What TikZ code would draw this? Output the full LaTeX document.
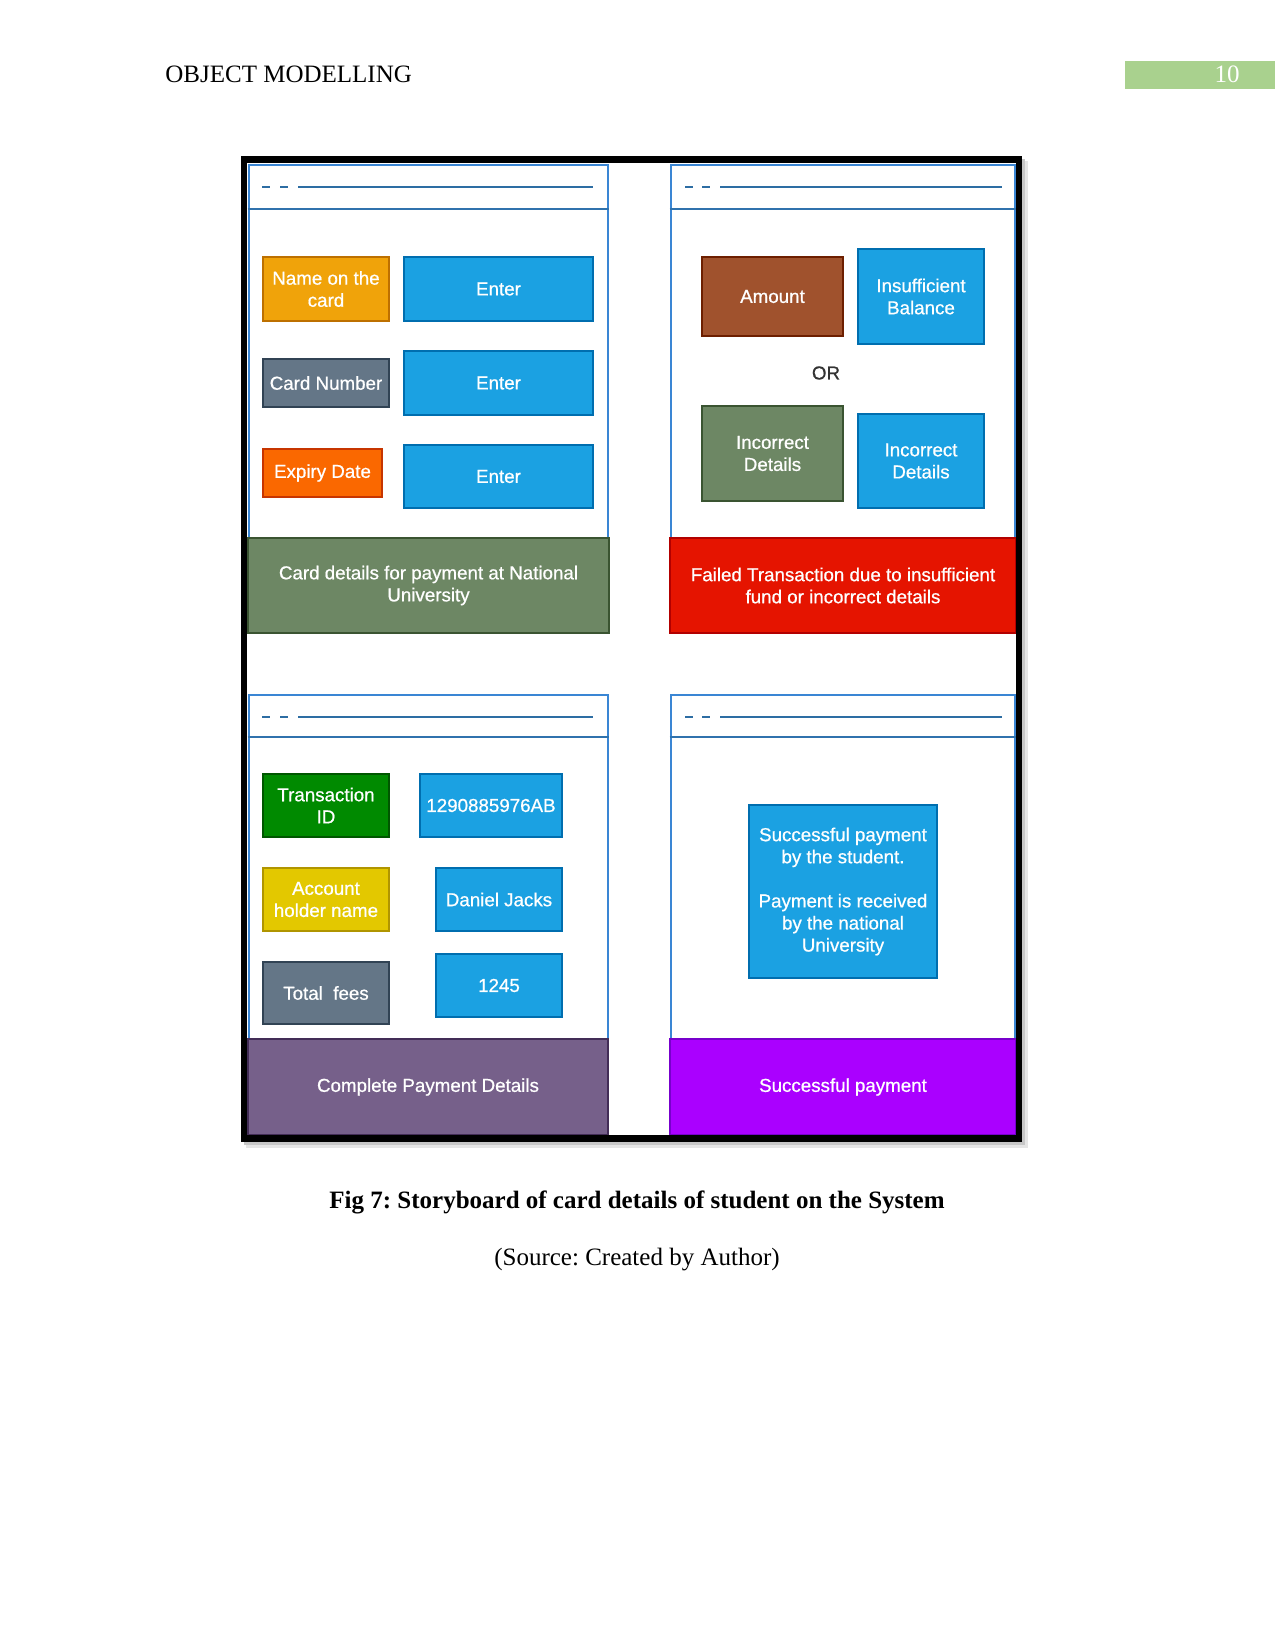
\documentclass[tikz,border=0pt]{standalone}
\usepackage{fontspec}
\setmainfont{Liberation Serif}
\newfontfamily\lab[FakeBold=0.7]{Liberation Sans}
\frenchspacing
\definecolor{cblue}{HTML}{1BA1E2}
\definecolor{dblue}{HTML}{006EAF}
\definecolor{corange}{HTML}{F0A30A}
\definecolor{dorange}{HTML}{BD7000}
\definecolor{cslate}{HTML}{647687}
\definecolor{dslate}{HTML}{314354}
\definecolor{cexp}{HTML}{FA6800}
\definecolor{dexp}{HTML}{C73500}
\definecolor{csienna}{HTML}{A0522D}
\definecolor{dsienna}{HTML}{6D1F00}
\definecolor{colive}{HTML}{6D8764}
\definecolor{dolive}{HTML}{3A5431}
\definecolor{cred}{HTML}{E51400}
\definecolor{dred}{HTML}{B20000}
\definecolor{cgreen}{HTML}{008A00}
\definecolor{dgreen}{HTML}{005700}
\definecolor{cyellow}{HTML}{E3C800}
\definecolor{dyellow}{HTML}{B09500}
\definecolor{cpurple}{HTML}{76608A}
\definecolor{dpurple}{HTML}{432D57}
\definecolor{cviolet}{HTML}{AA00FF}
\definecolor{dviolet}{HTML}{7700CC}
\definecolor{pborder}{HTML}{3A86D4}
\definecolor{hline}{HTML}{2D6DA3}
\definecolor{pagegreen}{HTML}{A9D18E}
\newcommand\mybox[8]{\node[ubox, fill=#6, draw=#7, minimum width={(#4-#2)*0.48pt}, minimum height={(#5-#3)*0.48pt}] (#1) at ({(#2+#4)/2},{(#3+#5)/2}) {#8};}
\newcommand\mypanel[5]{%
  \node[panelbox, minimum width={(#4-#2)*0.48pt}, minimum height={(#5-#3)*0.48pt}] (#1) at ({(#2+#4)/2},{(#3+#5)/2}) {};}
\begin{document}
\begin{tikzpicture}[x=0.48pt,y=-0.48pt,
  ubox/.style={line width=0.6pt, inner sep=0pt, text=white, align=center,
    font={\lab\fontsize{9}{10.6}\selectfont}},
  panelbox/.style={draw=pborder, fill=white, line width=1.4pt, inner sep=0pt},
  hdr/.style={draw=hline, line width=1.4pt},
  divl/.style={draw=hline!80!pborder, line width=1.3pt}]
\fill[white] (0,0) rectangle (1275,1651);
\useasboundingbox (0,0) rectangle (1275,1651);
% page header
\node[anchor=base west, font=\fontsize{12}{14}\selectfont, inner sep=0pt] (title) at (165,83) {OBJECT MODELLING};
\node[fill=pagegreen, minimum width={150*0.48pt}, minimum height={28*0.48pt}, inner sep=0pt] (pgbox) at (1200,75) {};
\node[anchor=base, text=white, font=\fontsize{12}{14}\selectfont, inner sep=0pt] (pgnum) at (1227,83) {10};
% shadow
\fill[black!10] (246,161) rectangle (1028,1148);
\fill[black!22] (244,159) rectangle (1025,1145);
\fill[white] (244,159) rectangle (1019,1139);
% panels
\mypanel{p1}{249}{165}{608}{538}
\mypanel{p2}{671}{165}{1015}{538}
\mypanel{p3}{249}{695}{608}{1039}
\mypanel{p4}{671}{695}{1015}{1039}
% header dividers
\draw[divl] (p1.west |- 0,209) coordinate (d1a) -- (p1.east |- 0,209) coordinate (d1b);
\draw[divl] (p2.west |- 0,209) coordinate (d2a) -- (p2.east |- 0,209) coordinate (d2b);
\draw[divl] (p3.west |- 0,737) coordinate (d3a) -- (p3.east |- 0,737) coordinate (d3b);
\draw[divl] (p4.west |- 0,737) coordinate (d4a) -- (p4.east |- 0,737) coordinate (d4b);
% header dash lines
\foreach \yy in {187,717}{
  \draw[hdr] (262,\yy) -- (270,\yy);
  \draw[hdr] (280,\yy) -- (288,\yy);
  \draw[hdr] (298,\yy) -- (593,\yy);
  \draw[hdr] (685,\yy) -- (693,\yy);
  \draw[hdr] (702,\yy) -- (710,\yy);
  \draw[hdr] (720,\yy) -- (1002,\yy);
}
% bands
\mybox{b1}{248}{538}{609}{633}{colive}{dolive}{Card details for payment at National\\University}
\mybox{b2}{670}{538}{1016}{633}{cred}{dred}{Failed Transaction due to insufficient\\fund or incorrect details}
\mybox{b3}{248}{1039}{608}{1135}{cpurple}{dpurple}{Complete Payment Details}
\mybox{b4}{670}{1039}{1016}{1135}{cviolet}{dviolet}{Successful payment}
% panel 1
\mybox{name}{263}{257}{389}{321}{corange}{dorange}{Name on the\\card}
\mybox{e1}{404}{257}{593}{321}{cblue}{dblue}{Enter}
\mybox{cn}{263}{359}{389}{407}{cslate}{dslate}{Card Number}
\mybox{e2}{404}{351}{593}{415}{cblue}{dblue}{Enter}
\mybox{ex}{263}{449}{382}{497}{cexp}{dexp}{Expiry Date}
\mybox{e3}{404}{445}{593}{508}{cblue}{dblue}{Enter}
% panel 2
\mybox{amt}{702}{257}{843}{336}{csienna}{dsienna}{Amount}
\mybox{ins}{858}{249}{984}{344}{cblue}{dblue}{Insufficient\\Balance}
\node[text=black!80, font={\lab\fontsize{9}{10.6}\selectfont}, inner sep=0pt] (or) at (826,373) {OR};
\mybox{incg}{702}{406}{843}{501}{colive}{dolive}{Incorrect\\Details}
\mybox{incb}{858}{414}{984}{508}{cblue}{dblue}{Incorrect\\Details}
% panel 3
\mybox{tid}{263}{774}{389}{837}{cgreen}{dgreen}{Transaction\\ID}
\mybox{tidv}{420}{774}{562}{837}{cblue}{dblue}{1290885976AB}
\mybox{ahn}{263}{868}{389}{931}{cyellow}{dyellow}{Account\\holder name}
\mybox{ahv}{436}{868}{562}{931}{cblue}{dblue}{Daniel Jacks}
\mybox{tf}{263}{962}{389}{1024}{cslate}{dslate}{Total\ \ fees}
\mybox{tfv}{436}{954}{562}{1017}{cblue}{dblue}{1245}
% panel 4
\mybox{succ}{749}{805}{937}{978}{cblue}{dblue}{Successful payment\\by the student.\\[10.6pt]Payment is received\\by the national\\University}
% black frame
\node[draw=black, line width=3.2pt, minimum width={775*0.48pt}, minimum height={979.5*0.48pt}, inner sep=0pt] (frame) at (631.5,649) {};
% caption
\node[anchor=base, font=\bfseries\fontsize{12}{14}\selectfont, inner sep=0pt] (cap) at (637,1208) {Fig 7: Storyboard of card details of student on the System};
\node[anchor=base, font=\fontsize{12}{14}\selectfont, inner sep=0pt] (src) at (637,1265) {(Source: Created by Author)};
\end{tikzpicture}
\end{document}
